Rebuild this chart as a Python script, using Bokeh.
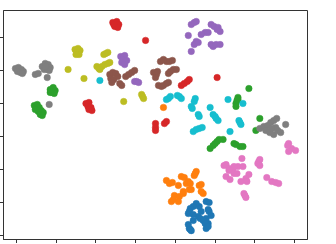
from bokeh.plotting import figure
from bokeh.models import FixedTicker, ColumnDataSource
from bokeh.embed import file_html
from bokeh.resources import INLINE

# cluster data
blue_x = [35.5, 37, 32, 30.5, 29, 27.5, 27, 26.5, 33, 37, 36.5, 31.5, 29, 32.5, 35.5, 38, 34, 36.5, 35, 29, 27, 28, 26.5, 27.5, 35.5, 36.5]
blue_y = [-39.6, -40.2, -42.6, -40.8, -42.6, -43.8, -45.7, -46.9, -45.7, -45.7, -44.5, -48.7, -47.5, -49.9, -49.9, -48.1, -51.1, -53.0, -53.0, -51.1, -56.0, -57.3, -53.6, -56.6, -56.0, -54.8]

orange_x = [14, 15.5, 17, 18.5, 23, 24.5, 26.5, 30.5, 29.5, 30, 21.5, 25.5, 27.5, 27, 32, 33, 34, 33, 19.5, 22, 24, 24, 18, 19, 21.5, 28]
orange_y = [17.7, -26.8, -28.6, -28.0, -24.4, -25.0, -27.4, -21.3, -23.8, -22.5, -29.8, -28.6, -28.6, -32.3, -29.8, -29.2, -34.7, -33.5, -35.9, -36.5, -34.7, -33.5, -39.6, -38.4, -39.6, -32.3]

green_x = [-43, -41.5, -40.5, -42, -41, -43, -51, -49.5, -50, -48.5, -47.5, -49, -46.5, -48, -47, -50.5,
           51.5, 51, 50.5, 50.5, 51.5, 57, 62.5, 60.5, 37.5, 39, 40, 42, 44, 41, 49.5, 50.5, 52.5, 54]
green_y = [28.6, 29.8, 28.0, 26.8, 26.2, 26.8, 18.9, 19.5, 17.1, 17.7, 15.8, 15.2, 14.6, 13.4, 12.8, 16.4,
           23.8, 21.9, 20.1, 18.3, 22.5, 29.2, 11.0, 3.7, -7.3, -5.5, -4.3, -1.8, -1.8, -3.0, -4.3, -4.9, -6.1, -6.1]

red_x = [-11.5, -9.5, -8.5, -10.5, -9, -11, 5, -25, -23.5, -24, -22.5, -22, -23.5, 10, 10, 10, 14.5, 15.5, 23, 24.5, 26, 27, 41]
red_y = [69.4, 70.0, 68.2, 67.0, 66.4, 68.2, 58.5, 20.1, 20.7, 18.3, 17.7, 15.8, 16.4, 7.9, 5.5, 3.7, 7.9, 9.1, 31.1, 32.3, 33.5, 34.7, 35.9]

purple_x = [-7.5, -5.5, -6.5, -4.5, -7, -5.5, -0.5, 0.5, 1.5,
            28, 29.5, 30.5, 26.5, 30.5, 29.5, 31.5, 28, 35, 36.5, 38, 39.5, 41.5, 42.5, 41, 39, 38, 40.5, 42.5, 33]
purple_y = [48.7, 49.3, 46.9, 46.3, 45.1, 43.8, 33.5, 33.5, 32.9,
            68.2, 69.4, 70.0, 61.5, 57.9, 56.0, 57.2, 51.8, 63.3, 63.3, 68.2, 67.0, 66.4, 63.9, 65.2, 54.8, 56.0, 56.0, 56.0, 62.1]

brown_x = [-13, -11.5, -10, -9, -12.5, -11, -12, -5, -3.5, -2, -0.5, -8, -7, 9, 10.5, 10, 11,
           11.5, 13, 14, 15.5, 16.5, 12.5, 14, 15.5, 17, 18.5, 16.5, 17.5, 19, 20.5]
brown_y = [37.8, 39.0, 38.4, 36.5, 35.3, 34.7, 32.9, 36.5, 37.8, 39.0, 40.2, 32.3, 31.1, 39.0, 37.8, 35.9, 39.6,
           31.1, 30.5, 31.1, 32.3, 32.9, 45.7, 46.9, 45.7, 45.7, 46.3, 38.4, 39.6, 40.8, 40.8]

pink_x = [77, 78.5, 80.5, 77, 76.5, 53.5, 61.5, 62, 62.5, 62.5, 44.5, 45.5, 47, 49, 51.5, 54, 49.5,
          47, 45.5, 49.5, 51, 57, 55.5, 53, 56, 47.5, 66, 68.5, 70.5, 72, 54.5, 55, 55.5]
pink_y = [-4.3, -7.3, -8.5, -9.1, -5.5, -13.4, -16.4, -15.2, -17.7, -14.0, -17.7, -17.1, -19.5, -19.5, -18.3, -18.3, -18.3,
          -20.7, -24.4, -22.5, -22.5, -23.1, -25.6, -27.4, -27.4, -26.2, -25.0, -27.4, -28.0, -28.6, -34.7, -35.9, -37.1]

gray_x = [-60.5, -59, -57.5, -59.5, -58, -56.5, -57, -47, -45.5, -44, -43, -46, -44.5, -43.5, -45.5, -50.5, -49, -44.5, -43.5,
          62.5, 64.5, 66.5, 68, 69.5, 71, 65.5, 67.5, 69.5, 71.5, 73, 70.5, 75.5, 68.5]
gray_y = [41.4, 42.0, 40.8, 39.6, 39.0, 39.6, 38.4, 42.6, 44.5, 43.8, 42.0, 40.8, 40.8, 40.2, 42.6, 37.8, 38.4, 35.9, 19.5,
          4.9, 6.1, 6.7, 8.5, 9.7, 11.0, 3.7, 2.4, 1.2, 3.7, 2.4, 5.5, 7.3, 4.9]

olive_x = [-30.5, -29, -28, -29.5, -28.5, -30, -34, -26, -16, -15, -14, -19.5, -18.5, -17, -15.5, -14, -13, -18, -6, 3, 3.5, 4]
olive_y = [53.0, 53.6, 52.4, 51.2, 49.9, 49.9, 40.8, 35.3, 49.9, 50.5, 51.2, 42.6, 41.4, 42.6, 43.8, 44.5, 45.1, 40.8, 21.3, 25.6, 24.4, 23.1]

cyan_x = [-18, 15.5, 16.5, 17.5, 21, 22, 23, 30, 29.5, 28, 28.5, 37.5, 31.5, 32, 39, 40, 40.5, 41.5, 46.5, 54, 52, 52.5, 53, 47.5, 29, 30.5, 32, 33.5]
cyan_y = [34.1, 22.5, 23.1, 24.4, 25.0, 24.4, 23.1, 23.1, 21.3, 18.3, 17.1, 17.7, 13.4, 12.2, 13.4, 12.2, 11.0, 9.7, 22.5, 20.1, 9.7, 8.5, 7.3, 3.0, 3.0, 4.3, 4.9, 5.5]

x_ticks = [-60, -40, -20, 0, 20, 40, 60, 80]
y_ticks = [-60, -40, -20, 0, 20, 40, 60]

series = [
    (blue_x, blue_y, "#1f77b4"),
    (orange_x, orange_y, "#ff7f0e"),
    (green_x, green_y, "#2ca02c"),
    (red_x, red_y, "#d62728"),
    (purple_x, purple_y, "#9467bd"),
    (brown_x, brown_y, "#8c564b"),
    (pink_x, pink_y, "#e377c2"),
    (gray_x, gray_y, "#7f7f7f"),
    (olive_x, olive_y, "#bcbd22"),
    (cyan_x, cyan_y, "#17becf"),
]

p = figure(width=330, height=244, output_backend="svg", toolbar_location=None,
           x_range=(-66.5, 86.5), y_range=(-62.7, 76.7),
           min_border_left=0, min_border_top=11, min_border_right=22, min_border_bottom=0,
           margin=(-1, 0, 0, -1))

for xs, ys, c in series:
    src = ColumnDataSource(dict(x=xs, y=ys))
    p.scatter("x", "y", source=src, size=6.5, fill_color=c, line_color=c, line_width=0.5)

p.xgrid.visible = False
p.ygrid.visible = False
p.outline_line_color = "#333333"
p.outline_line_width = 1
p.xaxis.ticker = FixedTicker(ticks=x_ticks)
p.yaxis.ticker = FixedTicker(ticks=y_ticks)
for ax in (p.xaxis[0], p.yaxis[0]):
    ax.major_label_text_font_size = "0px"
    ax.major_label_standoff = 0
    ax.major_tick_out = 4
    ax.major_tick_in = 0
    ax.minor_tick_out = 0
    ax.minor_tick_in = 0
    ax.axis_line_color = "#333333"
    ax.major_tick_line_color = "#333333"

open("out.html", "w").write(file_html(p, INLINE))
